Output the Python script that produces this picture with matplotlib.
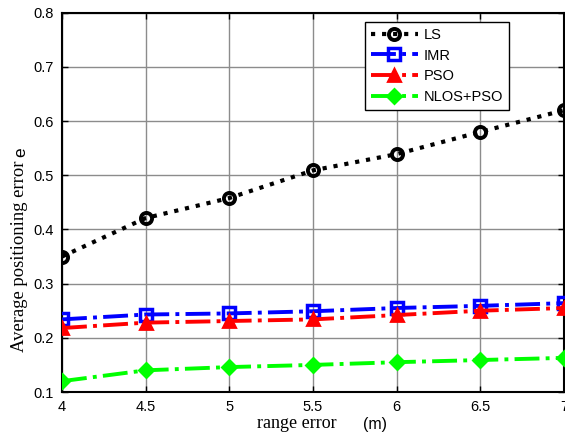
import matplotlib
matplotlib.use("Agg")
import matplotlib.pyplot as plt

range_err = [4, 4.5, 5, 5.5, 6, 6.5, 7]
ls_err = [0.35, 0.421, 0.458, 0.509, 0.539, 0.58, 0.62]
imr_err = [0.234, 0.243, 0.245, 0.249, 0.255, 0.259, 0.264]
pso_err = [0.218, 0.228, 0.231, 0.234, 0.242, 0.250, 0.255]
nlos_pso_err = [0.120, 0.140, 0.146, 0.150, 0.155, 0.159, 0.163]

x_ticks = [4, 4.5, 5, 5.5, 6, 6.5, 7]
x_tick_labels = ["4", "4.5", "5", "5.5", "6", "6.5", "7"]
y_ticks = [0.1, 0.2, 0.3, 0.4, 0.5, 0.6, 0.7, 0.8]
y_tick_labels = ["0.1", "0.2", "0.3", "0.4", "0.5", "0.6", "0.7", "0.8"]

plt.rcParams["font.family"] = ["Liberation Sans", "DejaVu Sans"]

fig = plt.figure(figsize=(5.65, 4.37), dpi=100)
ax = fig.add_axes([62 / 565, 1 - 392 / 437, 502 / 565, (392 - 12.7) / 437])

ax.plot(range_err, ls_err, color="black", linestyle=":", linewidth=3,
        marker="o", markersize=8, markerfacecolor="none", markeredgewidth=2.8,
        label="LS", zorder=5)
ax.plot(range_err, imr_err, color="#0000ff", linestyle="-.", linewidth=2.8,
        marker="s", markersize=8, markerfacecolor="none", markeredgewidth=2.5,
        label="IMR", zorder=5)
ax.plot(range_err, pso_err, color="#ff0000", linestyle="-.", linewidth=2.8,
        marker="^", markersize=9, markerfacecolor="#ff0000", markeredgewidth=2,
        label="PSO", zorder=5)
ax.plot(range_err, nlos_pso_err, color="#00ff00", linestyle="-.", linewidth=2.8,
        marker="D", markersize=7, markerfacecolor="#00ff00", markeredgewidth=2,
        label="NLOS+PSO", zorder=5)

ax.set_xlim(4, 7)
ax.set_ylim(0.1, 0.8)
ax.set_xticks(x_ticks)
ax.set_xticklabels(x_tick_labels)
ax.set_yticks(y_ticks)
ax.set_yticklabels(y_tick_labels)
ax.tick_params(direction="in", top=True, right=True, length=4, labelsize=10.5,
               width=1, pad=6)
ax.grid(True, color="#8c8c8c", linewidth=1, linestyle="-")
ax.set_axisbelow(True)
for s in ax.spines.values():
    s.set_linewidth(1.5)
    s.set_color("black")

leg = ax.legend(loc="upper right", bbox_to_anchor=(0.89, 0.975),
                borderaxespad=0, fontsize=10.5, handlelength=3.2,
                fancybox=False, framealpha=1, edgecolor="black",
                labelspacing=0.45, borderpad=0.4, handletextpad=0.4)
leg.get_frame().set_linewidth(1)

# axis titles: serif words with sans symbols
fig.text(257 / 565, 1 - 423 / 437, "range error", family=["Liberation Serif"],
         fontsize=13, ha="left", va="center")
fig.text(363 / 565, 1 - 424 / 437, "(m)", family=["Liberation Sans"],
         fontsize=11.5, ha="left", va="center")
fig.text(20 / 565, 1 - 352 / 437, "Average positioning error", family=["Liberation Serif"],
         fontsize=13.4, rotation=90, ha="center", va="bottom")
fig.text(21 / 565, 1 - 147 / 437, "e", family=["Liberation Sans"],
         fontsize=12.5, rotation=90, ha="center", va="top")

fig.savefig("out.png", dpi=100)
